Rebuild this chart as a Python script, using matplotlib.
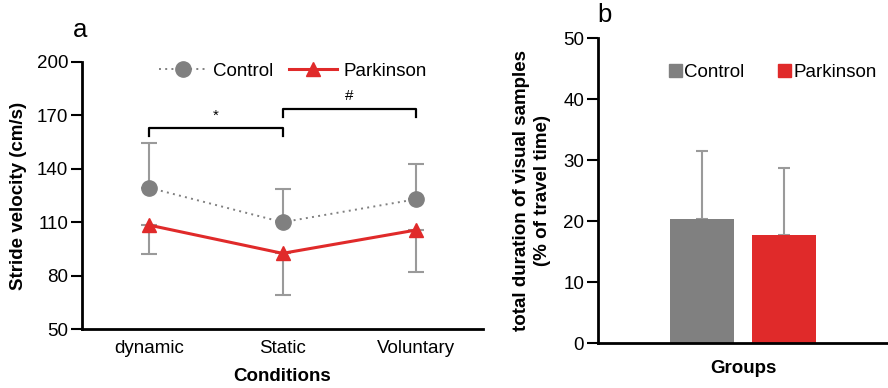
import matplotlib
matplotlib.use("Agg")
import matplotlib.pyplot as plt
from matplotlib.lines import Line2D
from matplotlib.patches import Patch
import numpy as np

plt.rcParams['font.family'] = ['Liberation Sans', 'DejaVu Sans']

# Panel a: stride velocity per condition
conditions = ["dynamic", "Static", "Voluntary"]
control_vel = [129.4, 110.0, 122.9]
control_err = [25.3, 18.8, 19.8]
parkinson_vel = [108.4, 92.5, 105.6]
parkinson_err = [16.3, 23.4, 23.4]
yticks_a = [50, 80, 110, 140, 170, 200]

# Panel b: visual sampling duration per group
groups = ["Control", "Parkinson"]
duration = [20.4, 17.75]
duration_err = [11.2, 10.95]
yticks_b = [0, 10, 20, 30, 40, 50]

GRAY = "#808080"
RED = "#e02a2a"
ERR = "#9a9a9a"

fig = plt.figure(figsize=(8.88, 3.88), dpi=100)
W, H = 888, 388

def px_axes(x0, y0, x1, y1):
    return fig.add_axes([x0 / W, 1 - y1 / H, (x1 - x0) / W, (y1 - y0) / H])

# ---------- panel a ----------
ax = px_axes(82, 62, 483, 329)
x = np.arange(len(conditions))
ax.errorbar(x, control_vel, yerr=[np.zeros(3), control_err], fmt='none',
            ecolor=ERR, elinewidth=1.5, capsize=6, capthick=1.5, zorder=1)
ax.errorbar(x, parkinson_vel, yerr=[parkinson_err, np.zeros(3)], fmt='none',
            ecolor=ERR, elinewidth=1.5, capsize=6, capthick=1.5, zorder=1)
ax.plot(x, control_vel, color=GRAY, linestyle=(0, (1, 2.2)), linewidth=1.4,
        marker='o', markersize=11, markerfacecolor=GRAY, markeredgecolor=GRAY, zorder=3)
ax.plot(x, parkinson_vel, color=RED, linewidth=2.2,
        marker='^', markersize=10, markerfacecolor=RED, markeredgecolor=RED, zorder=4)

# significance brackets
def bracket(x0, x1, y, h, label, ly):
    ax.plot([x0, x0, x1, x1], [y - h, y, y, y - h], color='black', lw=1.6, zorder=2)
    ax.text((x0 + x1) / 2, ly, label, ha='center', va='center', fontsize=11)

bracket(0, 1, 163.1, 4.5, "*", 170)
bracket(1, 2, 173.4, 4.5, "#", 181)

ax.set_xlim(-0.5, 2.5)
ax.set_ylim(50, 200)
ax.set_yticks(yticks_a)
ax.set_xticks(x)
ax.set_xticklabels(conditions)
ax.tick_params(axis='y', direction='out', length=8, width=1.5, labelsize=13.5, pad=2)
ax.tick_params(axis='x', length=0, labelsize=13.5, pad=8)
for s in ['top', 'right']:
    ax.spines[s].set_visible(False)
for s in ['left', 'bottom']:
    ax.spines[s].set_linewidth(2)
ax.set_ylabel("Stride velocity (cm/s)", fontsize=13.5, fontweight='bold', labelpad=7)
ax.set_xlabel("Conditions", fontsize=13.5, fontweight='bold', labelpad=8)

handles_a = [
    Line2D([0], [0], color=GRAY, linestyle=(0, (1, 2.2)), linewidth=1.4, marker='o',
           markersize=11, markerfacecolor=GRAY, markeredgecolor=GRAY),
    Line2D([0], [0], color=RED, linewidth=2.2, marker='^', markersize=10,
           markerfacecolor=RED, markeredgecolor=RED),
]
ax.legend(handles_a, ["Control", "Parkinson"], loc='upper left', bbox_to_anchor=(0.15, 1.06),
          ncol=2, frameon=False, fontsize=13.5, handlelength=2.6, handletextpad=0.3,
          columnspacing=0.8)
fig.text(73 / W, 1 - 30 / H, "a", fontsize=18.5, va='center', ha='left')

# ---------- panel b ----------
bx = px_axes(598, 38.3, 888, 343.3)
gx = np.arange(len(groups))
bx.bar(gx, duration, width=0.78, color=[GRAY, RED], zorder=2)
bx.errorbar(gx, duration, yerr=[np.zeros(2), duration_err], fmt='none',
            ecolor=ERR, elinewidth=1.5, capsize=4, capthick=1.5, zorder=1)
bx.set_xlim(-1.27, 2.27)
bx.set_ylim(0, 50)
bx.set_yticks(yticks_b)
bx.set_xticks([])
bx.tick_params(axis='y', direction='out', length=8, width=1.5, labelsize=13.5, pad=2)
for s in ['top', 'right']:
    bx.spines[s].set_visible(False)
for s in ['left', 'bottom']:
    bx.spines[s].set_linewidth(2)
bx.set_ylabel("total duration of visual samples\n(% of travel time)", fontsize=13.5,
              fontweight='bold', labelpad=9, linespacing=1.25)
bx.set_xlabel("Groups", fontsize=13.5, fontweight='bold', labelpad=12)

handles_b = [Patch(color=GRAY), Patch(color=RED)]
bx.legend(handles_b, groups, loc='upper left', bbox_to_anchor=(0.185, 0.97),
          ncol=2, frameon=False, fontsize=13.5, handlelength=0.7, handleheight=0.7,
          handletextpad=0.15, columnspacing=1.75)
fig.text(597 / W, 1 - 15 / H, "b", fontsize=18.5, va='center', ha='left')

fig.savefig("out.png", dpi=100)
